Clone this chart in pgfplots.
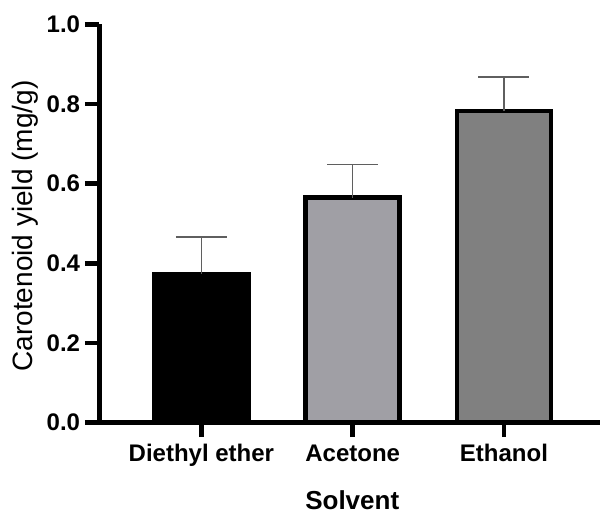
\documentclass[border=0pt]{standalone}
\usepackage{pgfplots}
\pgfplotsset{compat=1.18}
\usepackage{fontspec}
\setmainfont{Liberation Sans}
\definecolor{bartwo}{RGB}{160,159,165}
\definecolor{barthree}{RGB}{128,128,128}
\definecolor{errgray}{RGB}{95,95,95}
\begin{document}
\begin{tikzpicture}
\begin{axis}[
  at={(0,0)}, anchor=south west,
  scale only axis, width=375.4pt, height=298.7pt,
  xmin=-0.674, xmax=2.635, ymin=0, ymax=1,
  axis x line*=bottom, axis y line*=left,
  axis line style={line width=3.5pt, black},
  xtick={0,1,2}, xticklabels={Diethyl ether,Acetone,Ethanol},
  ytick={0,0.2,0.4,0.6,0.8,1.0},
  /pgf/number format/assume math mode=true,
  yticklabel style={/pgf/number format/fixed, /pgf/number format/fixed zerofill, /pgf/number format/precision=1},
  xticklabel style={yshift=-2pt},
  tick align=outside, major tick length=11pt,
  tick style={line width=3.5pt, black},
  ticklabel style={font=\bfseries\fontsize{18}{20}\selectfont},
  ylabel={Carotenoid yield (mg/g)},
  ylabel style={font=\fontsize{21}{24}\selectfont, at={(axis description cs:-0.1489,0.4933)}, anchor=center},
  xlabel={Solvent},
  xlabel style={font=\bfseries\fontsize{19.5}{22}\selectfont, inner sep=0pt, at={(axis description cs:0.505,-0.1950)}, anchor=center},
  clip=false,
]
\addplot[ybar, bar width=0.62, bar shift=0pt, fill=black, draw=black, line width=3.5pt,
  error bars/.cd, y dir=plus, y explicit, error mark=|,
  error bar style={line width=1.2pt, errgray},
  error mark options={errgray, line width=1.2pt, mark size=19.1pt}]
  coordinates {(0,0.373) +- (0,0.093)};
\addplot[ybar, bar width=0.62, bar shift=0pt, fill=bartwo, draw=black, line width=3.5pt,
  error bars/.cd, y dir=plus, y explicit, error mark=|,
  error bar style={line width=1.2pt, errgray},
  error mark options={errgray, line width=1.2pt, mark size=19.1pt}]
  coordinates {(1,0.565) +- (0,0.083)};
\addplot[ybar, bar width=0.62, bar shift=0pt, fill=barthree, draw=black, line width=3.5pt,
  error bars/.cd, y dir=plus, y explicit, error mark=|,
  error bar style={line width=1.2pt, errgray},
  error mark options={errgray, line width=1.2pt, mark size=19.1pt}]
  coordinates {(2,0.782) +- (0,0.086)};
\end{axis}
\pgfresetboundingbox
\path (-74.6pt,-70.1pt) rectangle (375.4pt,316.9pt);
\end{tikzpicture}
\end{document}
